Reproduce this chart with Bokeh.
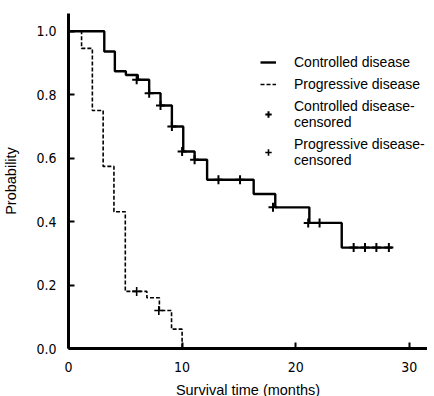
from bokeh.plotting import figure
from bokeh.models import Range1d, FixedTicker, Legend, LegendItem
from bokeh.embed import file_html
from bokeh.resources import INLINE

# Kaplan-Meier step data
ctrl_time = [0, 3.15, 4.08, 5.05, 6.1, 7.1, 8.1, 9.1, 10.1, 11.1, 12.2, 16.3, 18.2, 21.2, 24.05, 28.5]
ctrl_surv = [1.0, 0.936, 0.874, 0.862, 0.847, 0.805, 0.766, 0.700, 0.621, 0.595, 0.532, 0.487, 0.445, 0.396, 0.318, 0.318]

prog_time = [0, 1.15, 2.1, 3.05, 4.0, 5.0, 6.9, 8.0, 9.07, 10.0]
prog_surv = [1.0, 0.946, 0.750, 0.574, 0.431, 0.180, 0.160, 0.120, 0.061, 0.0]

ctrl_cens_time = [6.0, 7.1, 8.1, 9.1, 10.0, 11.1, 13.2, 15.1, 18.0, 21.1, 22.1, 25.1, 26.1, 27.1, 28.2]
ctrl_cens_surv = [0.847, 0.805, 0.766, 0.700, 0.621, 0.595, 0.532, 0.532, 0.445, 0.396, 0.396, 0.318, 0.318, 0.318, 0.318]

prog_cens_time = [6.0, 7.95]
prog_cens_surv = [0.180, 0.120]

x_ticks = [0, 10, 20, 30]
x_tick_labels = ["0", "10", "20", "30"]
y_ticks = [0.0, 0.2, 0.4, 0.6, 0.8, 1.0]
y_tick_labels = ["0.0", "0.2", "0.4", "0.6", "0.8", "1.0"]

labels = ["Controlled disease", "Progressive disease",
          "Controlled disease-\ncensored", "Progressive disease-\ncensored"]

TICK_FONT = "'Liberation Sans Narrow', 'DejaVu Sans Condensed', sans-serif"
TEXT_FONT = "'Liberation Sans', Arial, sans-serif"

p = figure(width=418, height=388, output_backend="svg", toolbar_location=None,
           x_range=Range1d(0, 31.6), y_range=Range1d(0, 1.056),
           min_border_left=59, min_border_right=0, min_border_top=13, min_border_bottom=40,
           frame_width=359, frame_height=335)
p.outline_line_color = None
p.xgrid.visible = False
p.ygrid.visible = False
p.background_fill_color = "white"
p.border_fill_color = "white"

r_ctrl = p.step(ctrl_time, ctrl_surv, mode="after", line_color="black", line_width=2.4)
r_prog = p.step(prog_time, prog_surv, mode="after", line_color="black", line_width=1.6,
                line_dash="4 2")
r_cc = p.scatter(ctrl_cens_time, ctrl_cens_surv, marker="cross", size=9,
                 line_color="black", line_width=2)
r_pc = p.scatter(prog_cens_time, prog_cens_surv, marker="cross", size=9,
                 line_color="black", line_width=1.6)

for ax, ticks, tl in ((p.xaxis[0], x_ticks, x_tick_labels), (p.yaxis[0], y_ticks, y_tick_labels)):
    ax.ticker = FixedTicker(ticks=ticks)
    ax.major_label_overrides = {t: l for t, l in zip(ticks, tl)}
    ax.axis_line_width = 3
    ax.axis_line_color = "black"
    ax.major_tick_in = 6
    ax.major_tick_out = 0
    ax.major_tick_line_width = 2
    ax.minor_tick_line_color = None
    ax.major_label_text_font = TICK_FONT
    ax.major_label_text_font_size = "14px"
    ax.major_label_text_color = "black"
    ax.axis_label_text_font = TEXT_FONT
    ax.axis_label_text_font_size = "14.5px"
    ax.axis_label_text_font_style = "normal"
    ax.axis_label_text_color = "black"

p.xaxis.axis_label = "Survival time (months)"
p.yaxis.axis_label = "Probability"
p.xaxis.major_label_standoff = 13
p.xaxis.axis_label_standoff = 7
p.yaxis.major_label_standoff = 12
p.yaxis.axis_label_standoff = 14

legend = Legend(items=[LegendItem(label=labels[0], renderers=[r_ctrl]),
                       LegendItem(label=labels[1], renderers=[r_prog]),
                       LegendItem(label=labels[2], renderers=[r_cc]),
                       LegendItem(label=labels[3], renderers=[r_pc])],
                location=(192, 180), orientation="vertical")
legend.label_text_font = TEXT_FONT
legend.label_text_font_size = "14px"
legend.label_text_color = "black"
legend.label_text_line_height = 1.25
legend.glyph_width = 16
legend.glyph_height = 16
legend.label_standoff = 18
legend.spacing = 6
legend.padding = 0
legend.margin = 0
legend.border_line_color = None
legend.background_fill_alpha = 0
p.add_layout(legend)

open("out.html", "w").write(file_html(p, INLINE))
